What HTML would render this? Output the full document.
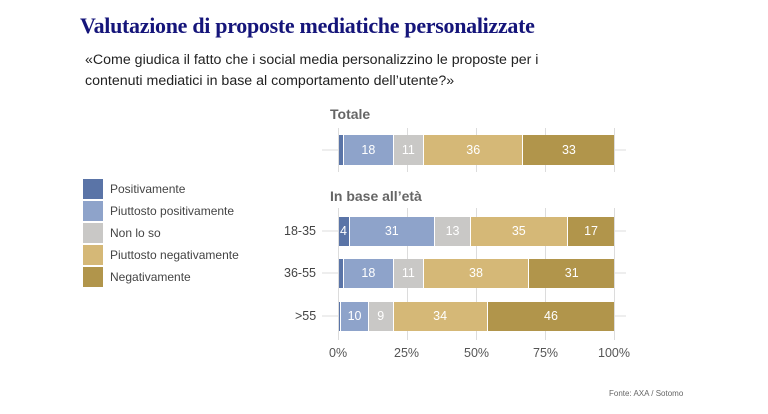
<!DOCTYPE html>
<html><head><meta charset="utf-8"><style>
body{margin:0;width:768px;height:414px;background:#fff;position:relative;overflow:hidden;font-family:"Liberation Sans",sans-serif}
.a{position:absolute;white-space:nowrap}
.sw{position:absolute;left:83px;width:20px;height:20px}
.lg{position:absolute;left:110px;font-size:12px;color:#444}
.seg{position:absolute;color:#fff;font-size:12.5px;text-align:center;box-sizing:border-box;border-right:1.5px solid #fff}
</style></head><body>
<div class="a" style="left:80px;top:13px;font-family:'Liberation Serif',serif;font-weight:bold;font-size:22px;color:#15157a;letter-spacing:-0.3px">Valutazione di proposte mediatiche personalizzate</div>
<div class="a" style="left:85px;top:50px;font-size:14.2px;line-height:21px;color:#222">«Come giudica il fatto che i social media personalizzino le proposte per i<br>contenuti mediatici in base al comportamento dell’utente?»</div>
<div class="a" style="left:330px;top:106px;font-size:14px;font-weight:bold;color:#666">Totale</div>
<div class="a" style="left:330px;top:188px;font-size:14px;font-weight:bold;color:#666">In base all’età</div>

<div class="sw" style="top:179px;background:#5a74a7"></div><div class="lg" style="top:182px">Positivamente</div>
<div class="sw" style="top:201px;background:#8ea3ca"></div><div class="lg" style="top:204px">Piuttosto positivamente</div>
<div class="sw" style="top:223px;background:#c9c8c6"></div><div class="lg" style="top:226px">Non lo so</div>
<div class="sw" style="top:245px;background:#d5b877"></div><div class="lg" style="top:248px">Piuttosto negativamente</div>
<div class="sw" style="top:267px;background:#b1954b"></div><div class="lg" style="top:270px">Negativamente</div>

<svg class="a" style="left:0;top:0" width="768" height="414">
<g stroke="#dcdcdc" stroke-width="1">
<line x1="338.5" y1="128" x2="338.5" y2="172"/><line x1="407.5" y1="128" x2="407.5" y2="172"/><line x1="476.5" y1="128" x2="476.5" y2="172"/><line x1="545.5" y1="128" x2="545.5" y2="172"/><line x1="614.5" y1="128" x2="614.5" y2="172"/>
<line x1="338.5" y1="208" x2="338.5" y2="340"/><line x1="407.5" y1="208" x2="407.5" y2="340"/><line x1="476.5" y1="208" x2="476.5" y2="340"/><line x1="545.5" y1="208" x2="545.5" y2="340"/><line x1="614.5" y1="208" x2="614.5" y2="340"/>
<line x1="322" y1="150" x2="338" y2="150"/><line x1="322" y1="231" x2="338" y2="231"/><line x1="322" y1="273" x2="338" y2="273"/><line x1="322" y1="316" x2="338" y2="316"/>
<line x1="614" y1="150" x2="626" y2="150"/><line x1="614" y1="231" x2="626" y2="231"/><line x1="614" y1="273" x2="626" y2="273"/><line x1="614" y1="316" x2="626" y2="316"/>
</g></svg>

<div id="bars"></div>
<div class="a" style="left:284px;top:224px;font-size:12.5px;color:#444">18-35</div>
<div class="a" style="left:284px;top:266px;font-size:12.5px;color:#444">36-55</div>
<div class="a" style="left:295px;top:309px;font-size:12.5px;color:#444">&gt;55</div>
<div class="a" style="left:329px;top:346px;font-size:12.5px;color:#555">0%</div>
<div class="a" style="left:394px;top:346px;font-size:12.5px;color:#555">25%</div>
<div class="a" style="left:464px;top:346px;font-size:12.5px;color:#555">50%</div>
<div class="a" style="left:533px;top:346px;font-size:12.5px;color:#555">75%</div>
<div class="a" style="left:598px;top:346px;font-size:12.5px;color:#555">100%</div>
<div class="a" style="left:609px;top:389px;font-size:8px;color:#666">Fonte: AXA / Sotomo</div>
<script>
var cols=["#5a74a7","#8ea3ca","#c9c8c6","#d5b877","#b1954b"];
var rows=[[135,30,[2,18,11,36,33],[0,1,1,1,1]],[217,29,[4,31,13,35,17],[1,1,1,1,1]],[259,29,[2,18,11,38,31],[0,1,1,1,1]],[302,29,[1,10,9,34,46],[0,1,1,1,1]]];
var h="";
rows.forEach(function(r){var x=338.5;r[2].forEach(function(v,i){var w=v*2.76;
h+='<div class="seg" style="left:'+x+'px;top:'+r[0]+'px;width:'+w+'px;height:'+r[1]+'px;line-height:'+r[1]+'px;background:'+cols[i]+(i==4?';border-right:none':'')+'">'+(r[3][i]?v:'')+'</div>';x+=w;});});
document.getElementById("bars").innerHTML=h;
</script>
</body></html>
